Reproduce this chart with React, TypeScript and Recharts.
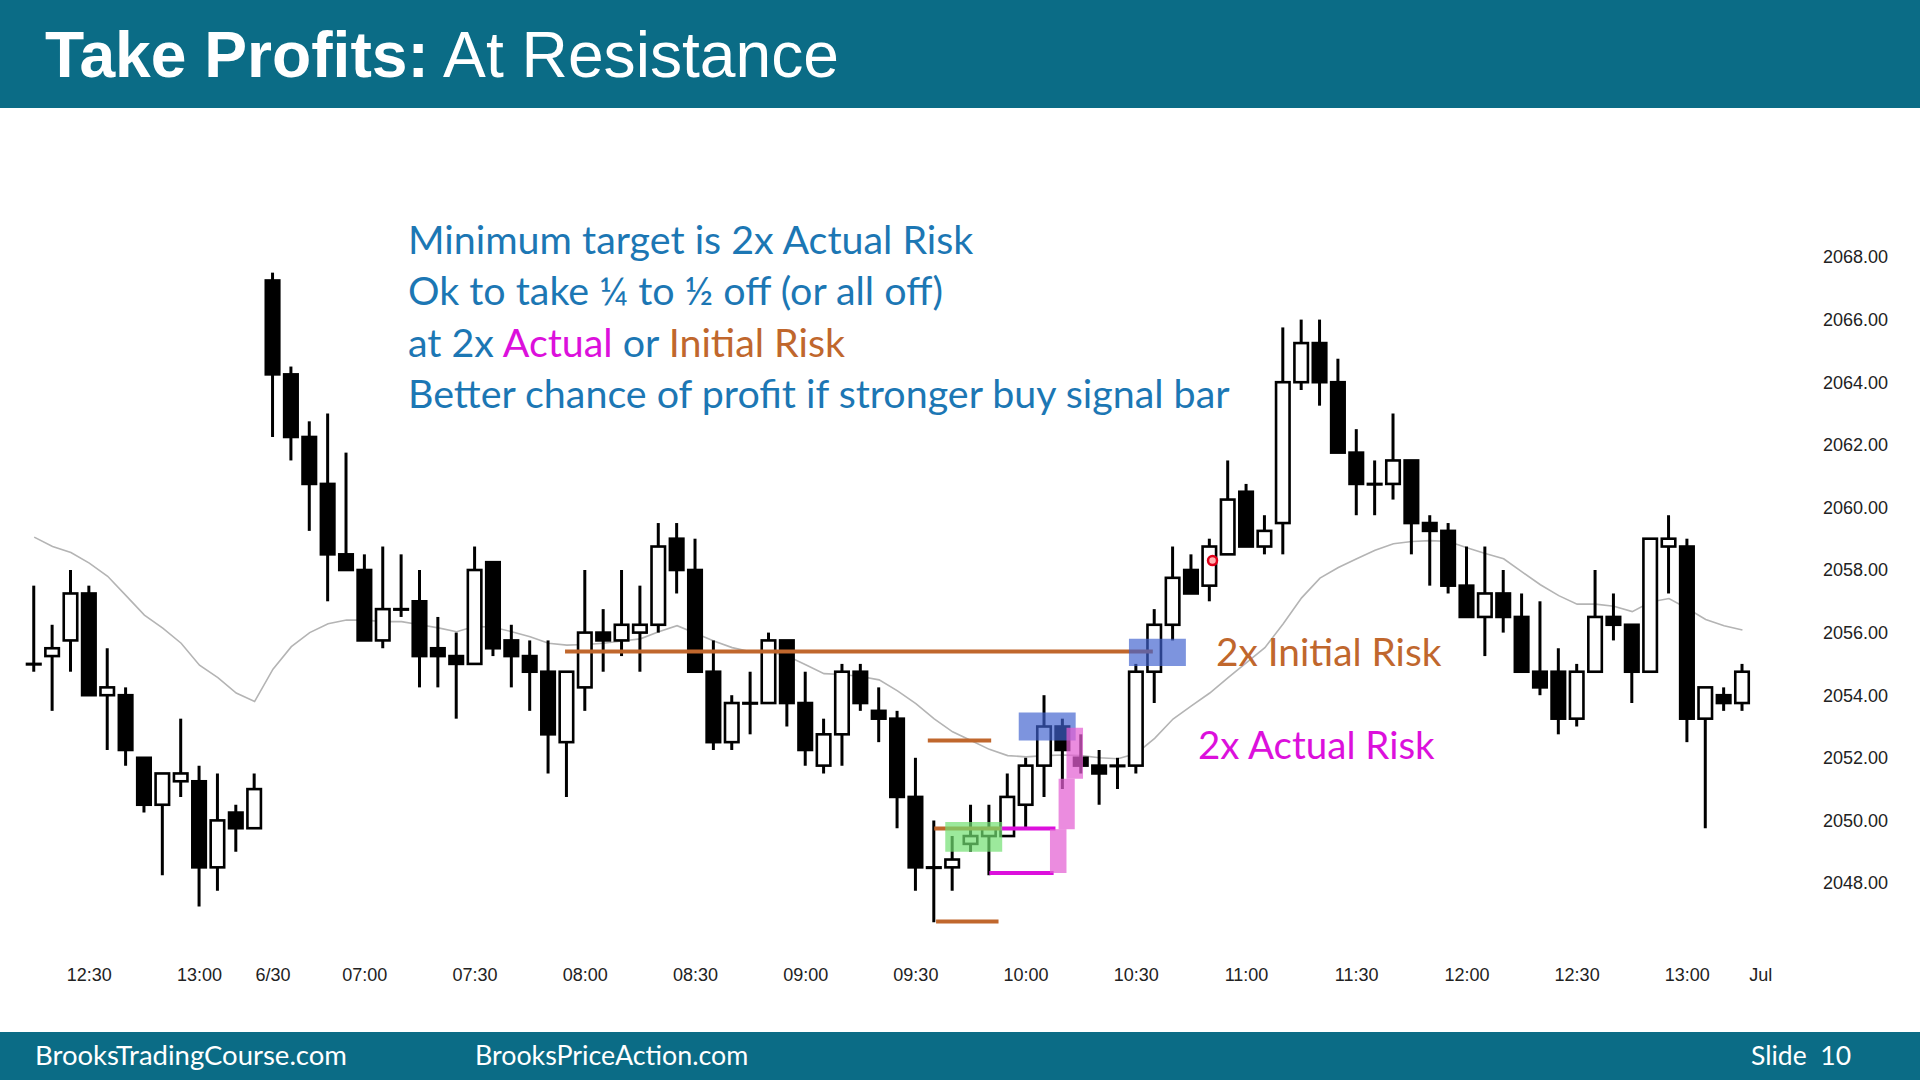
import React from 'react';
import {
  ComposedChart,
  Bar,
  Line,
  XAxis,
  YAxis,
  ReferenceLine,
  ReferenceArea,
  ReferenceDot,
} from 'recharts';

// 5-minute bars: last hour of 6/29, the full 6/30 session, then the empty "Jul" slot
function clock(day: string, startMin: number, count: number) {
  return Array.from({ length: count }, (_, k) => {
    const m = startMin + 5 * k;
    const hh = String(Math.floor(m / 60)).padStart(2, '0');
    const mm = String(m % 60).padStart(2, '0');
    return `${day} ${hh}:${mm}`;
  });
}
const times = [...clock('06/29', 735, 13), ...clock('06/30', 395, 81), '07/01 06:35'];

const opens = [
  2055.0, 2055.25, 2055.75, 2057.25, 2054.0, 2054.0, 2052.0, 2050.5, 2051.25, 2051.25,
  2048.5, 2050.25, 2049.75, 2067.25, 2064.25, 2062.25, 2060.75, 2058.5, 2058.0, 2055.75,
  2056.75, 2057.0, 2055.5, 2055.25, 2055.0, 2058.25, 2055.75, 2055.25, 2054.75, 2052.5,
  2054.25, 2056.0, 2055.75, 2056.0, 2056.25, 2059.0, 2058.0, 2054.75, 2052.5, 2053.75,
  2053.75, 2055.75, 2053.75, 2051.75, 2052.75, 2054.75, 2053.5, 2053.25, 2050.75, 2048.5,
  2048.5, 2049.25, 2049.5, 2049.5, 2050.5, 2051.75, 2053.0, 2052.0, 2051.75, 2051.75,
  2051.75, 2054.75, 2056.25, 2058.0, 2057.5, 2058.5, 2060.5, 2058.75, 2059.5, 2064.0,
  2065.25, 2064.0, 2061.75, 2060.75, 2060.75, 2061.5, 2059.5, 2059.25, 2057.5, 2056.5,
  2057.25, 2056.5, 2054.75, 2054.75, 2053.25, 2054.75, 2056.5, 2056.25, 2054.75, 2058.75,
  2058.75, 2053.25, 2054.0, 2053.75,
];
const highs = [
  2057.5, 2056.25, 2058.0, 2057.5, 2055.5, 2054.25, 2052.0, 2051.5, 2053.25, 2051.75,
  2051.5, 2050.5, 2051.5, 2067.5, 2064.5, 2062.75, 2063.0, 2061.75, 2058.5, 2058.75,
  2058.5, 2058.0, 2056.5, 2056.0, 2058.75, 2058.25, 2056.25, 2055.75, 2055.75, 2054.75,
  2058.0, 2056.75, 2058.0, 2057.5, 2059.5, 2059.5, 2059.0, 2055.75, 2054.0, 2054.75,
  2056.0, 2055.75, 2054.75, 2053.25, 2055.0, 2055.0, 2054.25, 2053.5, 2052.0, 2050.0,
  2049.5, 2050.5, 2050.5, 2051.5, 2052.0, 2054.0, 2053.25, 2052.75, 2052.25, 2052.0,
  2055.0, 2056.75, 2058.75, 2058.5, 2059.0, 2061.5, 2060.75, 2059.75, 2065.75, 2066.0,
  2066.0, 2064.75, 2062.5, 2061.5, 2063.0, 2061.5, 2059.75, 2059.5, 2058.75, 2058.75,
  2058.0, 2057.25, 2057.0, 2055.5, 2055.0, 2058.0, 2057.25, 2056.25, 2059.0, 2059.75,
  2059.0, 2054.25, 2054.25, 2055.0,
];
const lows = [
  2054.75, 2053.5, 2054.75, 2054.0, 2052.25, 2051.75, 2050.25, 2048.25, 2050.75, 2047.25,
  2047.75, 2049.0, 2049.75, 2062.25, 2061.5, 2059.25, 2057.0, 2058.0, 2055.75, 2055.5,
  2056.5, 2054.25, 2054.25, 2053.25, 2055.0, 2055.25, 2054.25, 2053.5, 2051.5, 2050.75,
  2053.5, 2054.75, 2055.25, 2054.75, 2056.0, 2057.25, 2054.75, 2052.25, 2052.25, 2052.75,
  2053.75, 2053.0, 2051.75, 2051.5, 2051.75, 2053.5, 2052.5, 2049.75, 2047.75, 2046.75,
  2047.75, 2049.0, 2048.25, 2049.5, 2049.75, 2050.75, 2051.0, 2051.5, 2050.5, 2051.0,
  2051.5, 2053.75, 2055.75, 2057.25, 2057.0, 2058.5, 2058.75, 2058.5, 2058.5, 2063.75,
  2063.25, 2061.75, 2059.75, 2059.75, 2060.25, 2058.5, 2057.5, 2057.25, 2056.5, 2055.25,
  2056.0, 2054.75, 2054.0, 2052.75, 2053.0, 2054.75, 2055.75, 2053.75, 2054.75, 2057.25,
  2052.5, 2049.75, 2053.5, 2053.5,
];
const closes = [
  2055.0, 2055.5, 2057.25, 2054.0, 2054.25, 2052.25, 2050.5, 2051.5, 2051.5, 2048.5,
  2050.0, 2049.75, 2051.0, 2064.25, 2062.25, 2060.75, 2058.5, 2058.0, 2055.75, 2056.75,
  2056.75, 2055.25, 2055.25, 2055.0, 2058.0, 2055.5, 2055.25, 2054.75, 2052.75, 2054.75,
  2056.0, 2055.75, 2056.25, 2056.25, 2058.75, 2058.0, 2054.75, 2052.5, 2053.75, 2053.75,
  2055.75, 2053.75, 2052.25, 2052.75, 2054.75, 2053.75, 2053.25, 2050.75, 2048.5, 2048.5,
  2048.75, 2049.5, 2049.75, 2050.75, 2051.75, 2053.0, 2052.25, 2051.75, 2051.5, 2051.75,
  2054.75, 2056.25, 2057.75, 2057.25, 2058.75, 2060.25, 2058.75, 2059.25, 2064.0, 2065.25,
  2064.0, 2061.75, 2060.75, 2060.75, 2061.5, 2059.5, 2059.25, 2057.5, 2056.5, 2057.25,
  2056.5, 2054.75, 2054.25, 2053.25, 2054.75, 2056.5, 2056.25, 2054.75, 2059.0, 2059.0,
  2053.25, 2054.25, 2053.75, 2054.75,
];
// moving average (grey line)
const ema = [
  2059.05, 2058.75, 2058.56, 2058.22, 2057.8, 2057.18, 2056.56, 2056.14, 2055.66, 2054.96,
  2054.56, 2054.07, 2053.8, 2054.83, 2055.55, 2056.0, 2056.28, 2056.4, 2056.4, 2056.35,
  2056.35, 2056.25, 2056.15, 2056.03, 2056.2, 2056.17, 2056.03, 2055.87, 2055.66, 2055.6,
  2055.62, 2055.66, 2055.73, 2055.8, 2056.03, 2056.22, 2055.98, 2055.73, 2055.52, 2055.39,
  2055.39, 2055.25, 2054.97, 2054.69, 2054.66, 2054.6, 2054.49, 2054.14, 2053.73, 2053.24,
  2052.83, 2052.55, 2052.27, 2052.07, 2052.03, 2052.07, 2052.09, 2052.07, 2052.0, 2051.97,
  2052.14, 2052.62, 2053.24, 2053.66, 2054.07, 2054.56, 2055.04, 2055.52, 2056.28, 2057.11,
  2057.74, 2058.08, 2058.36, 2058.63, 2058.84, 2058.91, 2058.94, 2058.91, 2058.71, 2058.53,
  2058.36, 2057.94, 2057.53, 2057.18, 2056.91, 2056.91, 2056.84, 2056.67, 2056.98, 2057.09,
  2056.77, 2056.42, 2056.22, 2056.08,
];

const tickKeys = [
  '06/29 12:30', '06/29 13:00', '06/30 06:35', '06/30 07:00', '06/30 07:30', '06/30 08:00',
  '06/30 08:30', '06/30 09:00', '06/30 09:30', '06/30 10:00', '06/30 10:30', '06/30 11:00',
  '06/30 11:30', '06/30 12:00', '06/30 12:30', '06/30 13:00', '07/01 06:35',
];
const tickText = [
  '12:30', '13:00', '6/30', '07:00', '07:30', '08:00', '08:30', '09:00', '09:30', '10:00',
  '10:30', '11:00', '11:30', '12:00', '12:30', '13:00', 'Jul',
];
const priceTicks = [2048, 2050, 2052, 2054, 2056, 2058, 2060, 2062, 2064, 2066, 2068];

// annotations, in bar-index / price units: [fromBar, toBar, price]
const brownLines = [
  [28.9, 60.9, 2055.4],
  [48.65, 52.1, 2052.55],
  [49.0, 52.6, 2049.74],
  [49.1, 52.5, 2046.77],
];
const magentaLines = [
  [52.6, 55.6, 2049.74],
  [52.0, 55.5, 2048.32],
];
// [fromBar, toBar, lowPrice, highPrice]
const blueBoxes = [
  [53.6, 56.7, 2052.55, 2053.45],
  [59.6, 62.7, 2054.93, 2055.8],
];
const greenBoxes = [[49.6, 52.7, 2049.0, 2049.95]];
const pinkSteps = [
  [55.3, 56.2, 2048.32, 2049.72],
  [55.77, 56.65, 2049.72, 2051.33],
  [56.2, 57.1, 2051.33, 2052.96],
];
const entryMark = { bar: 64.15, price: 2058.3 };

const data = times.map((t, i) => ({
  t,
  i,
  open: opens[i],
  high: highs[i],
  low: lows[i],
  close: closes[i],
  range: opens[i] == null ? null : [lows[i], highs[i]],
  ema: ema[i] ?? null,
}));

const TEAL = '#0b6c86';
const BLUE = '#1c77b4';
const MAGENTA = '#dc10dc';
const BROWN = '#c0672d';

function Candle(props: any) {
  const { x, y, width, height, payload } = props;
  if (!payload || payload.open == null || x == null) return null;
  const { open, close, high, low } = payload;
  const top = Math.min(y, y + height);
  const bottom = Math.max(y, y + height);
  const k = high > low ? (bottom - top) / (high - low) : 0;
  const yOf = (v: number) => top + (high - v) * k;
  const cx = x + width / 2;
  const yo = yOf(open);
  const yc = yOf(close);
  const bodyTop = Math.min(yo, yc);
  const bodyH = Math.max(Math.abs(yo - yc), 0.5);
  const up = close > open;
  return (
    <g>
      <line x1={cx} x2={cx} y1={top} y2={bottom} stroke="#000" strokeWidth={3} />
      <rect
        x={x}
        y={bodyTop}
        width={width}
        height={bodyH}
        fill={up ? '#fff' : '#000'}
        stroke="#000"
        strokeWidth={2.6}
      />
    </g>
  );
}

const textLine: React.CSSProperties = {
  whiteSpace: 'nowrap',
  lineHeight: '51.4px',
};

export default function App() {
  return (
    <div
      style={{
        position: 'absolute',
        left: 0,
        top: 0,
        width: 1920,
        height: 1080,
        background: '#fff',
        overflow: 'hidden',
        fontFamily: 'Lato, sans-serif',
      }}
    >
      <div style={{ position: 'absolute', left: 0, top: 0 }}>
        <ComposedChart
          width={1920}
          height={1080}
          data={data}
          margin={{ top: 225.7, right: 0, bottom: 74.4, left: 25 }}
        >
          <XAxis
            xAxisId="cat"
            dataKey="t"
            ticks={tickKeys}
            interval={0}
            tickFormatter={(v: string) => tickText[tickKeys.indexOf(v)] ?? ''}
            axisLine={false}
            tickLine={false}
            tickSize={0}
            tickMargin={23}
            height={60}
            tick={{ fill: '#222', fontSize: 18, fontFamily: '"Liberation Sans", Arial, sans-serif' }}
          />
          <XAxis
            xAxisId="num"
            type="number"
            dataKey="i"
            domain={[-0.5, 94.5]}
            allowDataOverflow
            hide
          />
          <YAxis
            yAxisId="p"
            orientation="right"
            domain={[2046, 2069]}
            ticks={priceTicks}
            allowDataOverflow
            tickFormatter={(v: number) => v.toFixed(2)}
            axisLine={false}
            tickLine={false}
            tickSize={0}
            tickMargin={53}
            width={150}
            tick={{ fill: '#222', fontSize: 18, fontFamily: '"Liberation Sans", Arial, sans-serif' }}
          />
          <Line
            xAxisId="cat"
            yAxisId="p"
            dataKey="ema"
            type="linear"
            stroke="#b4b4b4"
            strokeWidth={1.6}
            dot={false}
            activeDot={false}
            isAnimationActive={false}
            zIndex={250}
          />
          <Bar
            xAxisId="cat"
            yAxisId="p"
            dataKey="range"
            barSize={13.5}
            shape={Candle}
            isAnimationActive={false}
          />
          {brownLines.map(([a, b, p], k) => (
            <ReferenceLine
              key={`b${k}`}
              xAxisId="num"
              yAxisId="p"
              segment={[{ x: a, y: p }, { x: b, y: p }]}
              stroke={BROWN}
              strokeWidth={4}
              zIndex={700}
            />
          ))}
          {magentaLines.map(([a, b, p], k) => (
            <ReferenceLine
              key={`m${k}`}
              xAxisId="num"
              yAxisId="p"
              segment={[{ x: a, y: p }, { x: b, y: p }]}
              stroke={MAGENTA}
              strokeWidth={4}
              zIndex={700}
            />
          ))}
          {greenBoxes.map(([a, b, lo, hi], k) => (
            <ReferenceArea
              key={`g${k}`}
              xAxisId="num"
              yAxisId="p"
              x1={a}
              x2={b}
              y1={lo}
              y2={hi}
              fill="#72e072"
              fillOpacity={0.7}
              stroke="none"
              zIndex={710}
            />
          ))}
          {blueBoxes.map(([a, b, lo, hi], k) => (
            <ReferenceArea
              key={`bl${k}`}
              xAxisId="num"
              yAxisId="p"
              x1={a}
              x2={b}
              y1={lo}
              y2={hi}
              fill="#3f62cf"
              fillOpacity={0.68}
              stroke="none"
              zIndex={710}
            />
          ))}
          {pinkSteps.map(([a, b, lo, hi], k) => (
            <ReferenceArea
              key={`p${k}`}
              xAxisId="num"
              yAxisId="p"
              x1={a}
              x2={b}
              y1={lo}
              y2={hi}
              fill="#e35fd3"
              fillOpacity={0.72}
              stroke="none"
              zIndex={710}
            />
          ))}
          <ReferenceDot
            xAxisId="num"
            yAxisId="p"
            x={entryMark.bar}
            y={entryMark.price}
            r={4.5}
            fill="#ffb0b0"
            stroke="#e0001a"
            strokeWidth={2.5}
            zIndex={720}
          />
        </ComposedChart>
      </div>

      {/* title bar */}
      <div style={{ position: 'absolute', left: 0, top: 0, width: 1920, height: 108, background: TEAL }} />
      <div
        style={{
          position: 'absolute',
          left: 45,
          top: 22,
          fontFamily: '"Liberation Sans", Arial, sans-serif',
          fontSize: 65,
          lineHeight: '65px',
          color: '#fff',
          whiteSpace: 'nowrap',
          transform: 'scaleX(0.987)',
          transformOrigin: 'left top',
        }}
      >
        <b>Take Profits:</b> At Resistance
      </div>

      {/* notes */}
      <div style={{ position: 'absolute', left: 408, top: 213, fontSize: 39.4, color: BLUE }}>
        <div style={textLine}>Minimum target is 2x Actual Risk</div>
        <div style={textLine}>Ok to take ¼ to ½ off (or all off)</div>
        <div style={textLine}>
          at 2x <span style={{ color: MAGENTA }}>Actual</span> or{' '}
          <span style={{ color: BROWN }}>Initial Risk</span>
        </div>
        <div style={textLine}>Better chance of profit if stronger buy signal bar</div>
      </div>
      <div style={{ ...textLine, position: 'absolute', left: 1216, top: 626, fontSize: 38.8, color: BROWN }}>
        2x Initial Risk
      </div>
      <div style={{ ...textLine, position: 'absolute', left: 1198, top: 719, fontSize: 38.5, color: MAGENTA }}>
        2x Actual Risk
      </div>

      {/* footer */}
      <div style={{ position: 'absolute', left: 0, top: 1032, width: 1920, height: 48, background: TEAL }} />
      <div style={{ position: 'absolute', left: 35, top: 1032, lineHeight: '46px', fontSize: 27.5, color: '#fff' }}>
        BrooksTradingCourse.com
      </div>
      <div style={{ position: 'absolute', left: 475, top: 1032, lineHeight: '46px', fontSize: 26.8, color: '#fff' }}>
        BrooksPriceAction.com
      </div>
      <div
        style={{
          position: 'absolute',
          right: 69,
          top: 1032,
          lineHeight: '46px',
          fontSize: 26.5,
          color: '#fff',
          whiteSpace: 'pre',
        }}
      >
        {'Slide  10'}
      </div>
    </div>
  );
}
